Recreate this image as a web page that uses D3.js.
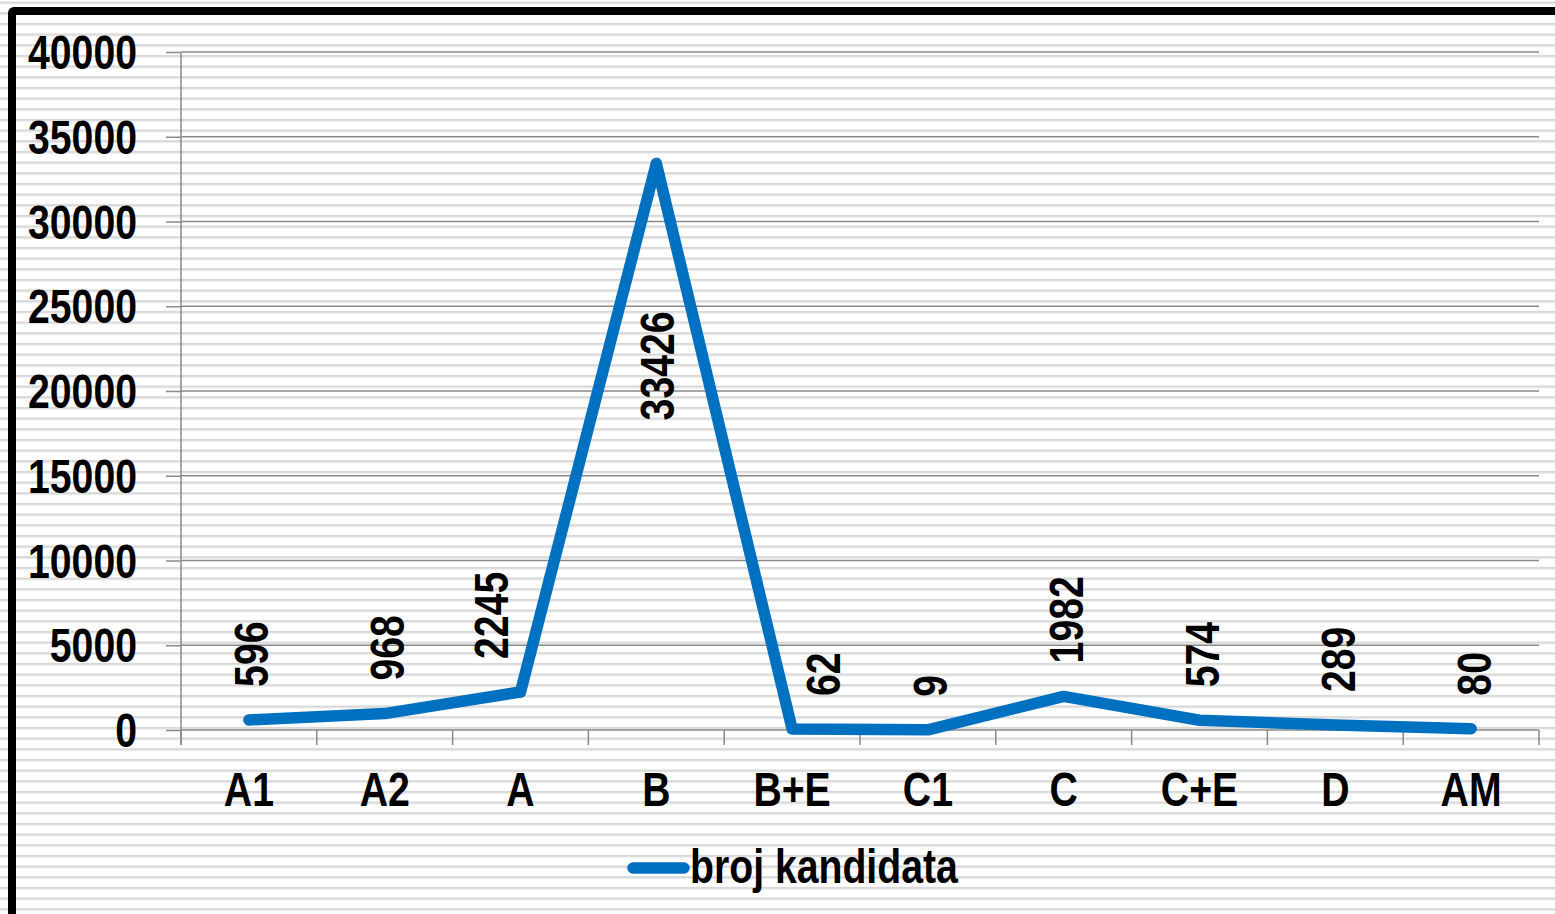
<!DOCTYPE html>
<html>
<head>
<meta charset="utf-8">
<script src="https://cdn.jsdelivr.net/npm/d3@7"></script>
<style>
  html, body { margin: 0; padding: 0; background: #fff; }
  svg { display: block; }
  .lbl { font-family: 'Liberation Sans', Arial, sans-serif; font-weight: bold; font-size: 49px; fill: #000; }
</style>
</head>
<body>
<div id="chart"></div>
<script>
// data
const categories = ['A1', 'A2', 'A', 'B', 'B+E', 'C1', 'C', 'C+E', 'D', 'AM'];
const values = [596, 968, 2245, 33426, 62, 9, 1982, 574, 289, 80];
const yTicks = [0, 5000, 10000, 15000, 20000, 25000, 30000, 35000, 40000];
const seriesName = 'broj kandidata';

const W = 1555, H = 914;
const plot = { left: 181, right: 1539, top: 52, bottom: 730 };
const blue = '#0070C0', axisGrey = '#8a8a8a';
const lineW = 11.5;
const narrow = 0.8; // no Arial Narrow installed, squeeze the bold face instead

const svg = d3.select('#chart').append('svg')
  .attr('width', W).attr('height', H);

// narrow bold text at (x,y), optional rotation
function label(parent, x, y, txt, anchor, rot) {
  return parent.append('text')
    .attr('class', 'lbl')
    .attr('text-anchor', anchor || 'start')
    .attr('transform', `translate(${x},${y}) rotate(${rot || 0}) scale(${narrow},1)`)
    .text(txt);
}

// striped background
const defs = svg.append('defs');
const pat = defs.append('pattern')
  .attr('id', 'stripes').attr('patternUnits', 'userSpaceOnUse')
  .attr('x', 0).attr('y', 1.5)
  .attr('width', 20).attr('height', 10.667);
pat.append('rect').attr('width', 20).attr('height', 10.667).attr('fill', '#fff');
pat.append('rect').attr('y', 0).attr('width', 20).attr('height', 2.4).attr('fill', '#d9d9d9');

svg.append('rect').attr('width', W).attr('height', H).attr('fill', 'url(#stripes)');

// outer frame (runs off the right and bottom edges)
svg.append('rect')
  .attr('x', 12).attr('y', 11)
  .attr('width', W + 40).attr('height', H + 40)
  .attr('rx', 2)
  .attr('fill', 'none').attr('stroke', '#000').attr('stroke-width', 8);

const x = d3.scaleBand().domain(categories).range([plot.left, plot.right]);
const y = d3.scaleLinear().domain([0, 40000]).range([plot.bottom, plot.top]);
const cx = d => x(d) + x.bandwidth() / 2;

// gridlines
svg.append('g').selectAll('line')
  .data(yTicks.filter(t => t > 0))
  .join('line')
  .attr('x1', plot.left).attr('x2', plot.right)
  .attr('y1', d => y(d)).attr('y2', d => y(d))
  .attr('stroke', axisGrey).attr('stroke-width', 1.5);

// y axis: ticks from d3, labels drawn narrow
const yAxis = svg.append('g')
  .attr('transform', `translate(${plot.left},0)`)
  .call(d3.axisLeft(y).tickValues(yTicks).tickSize(15).tickFormat(''));
yAxis.select('.domain').remove();
yAxis.selectAll('.tick line').attr('stroke', axisGrey).attr('stroke-width', 1.5);
const yLab = svg.append('g');
yTicks.forEach(t => label(yLab, 137, y(t) + 17, d3.format('d')(t), 'end'));
svg.append('line')
  .attr('x1', plot.left).attr('x2', plot.left)
  .attr('y1', plot.top).attr('y2', plot.bottom + 15)
  .attr('stroke', axisGrey).attr('stroke-width', 1.5);

// x axis
svg.append('line')
  .attr('x1', plot.left).attr('x2', plot.right)
  .attr('y1', plot.bottom).attr('y2', plot.bottom)
  .attr('stroke', axisGrey).attr('stroke-width', 1.5);
svg.append('g').selectAll('line')
  .data(categories.map(c => x(c)).concat([plot.right]))
  .join('line')
  .attr('x1', d => d).attr('x2', d => d)
  .attr('y1', plot.bottom).attr('y2', plot.bottom + 15)
  .attr('stroke', axisGrey).attr('stroke-width', 1.5);
const xLab = svg.append('g');
categories.forEach(c => label(xLab, cx(c), 806, c, 'middle'));

// series line
const pts = values.map((v, i) => [cx(categories[i]), y(v)]);
svg.append('path')
  .datum(pts)
  .attr('d', d3.line())
  .attr('fill', 'none').attr('stroke', blue)
  .attr('stroke-width', lineW)
  .attr('stroke-linecap', 'round').attr('stroke-linejoin', 'round');

// x of segment a->b at height yy
function segX(a, b, yy) {
  const t = (yy - a[1]) / (b[1] - a[1]);
  return a[0] + t * (b[0] - a[0]);
}

// data labels, rotated; pushed sideways when a steep segment runs through them
const dLab = svg.append('g');
const glyphH = 35, gap = 33, clear = lineW / 2 + 15;
values.forEach((v, i) => {
  const t = label(dLab, 0, 0, v, 'start', -90);
  const len = t.node().getComputedTextLength() * narrow;
  const [px, py] = pts[i];
  let bottom = py - gap;
  if (bottom - len < plot.top) bottom = py + 148 + len; // too tall: place below the point
  const top = bottom - len;
  let mid = px + 2;
  const inRange = (a, b) => Math.max(a[1], b[1]) > top && Math.min(a[1], b[1]) < bottom;
  if (i < pts.length - 1 && inRange(pts[i], pts[i + 1])) {
    const a = pts[i], b = pts[i + 1];
    const lo = Math.max(top, Math.min(a[1], b[1])), hi = Math.min(bottom, Math.max(a[1], b[1]));
    const xs = Math.min(segX(a, b, lo), segX(a, b, hi));
    mid = Math.min(mid, xs - clear - glyphH / 2);
  }
  if (i > 0 && inRange(pts[i - 1], pts[i])) {
    const a = pts[i - 1], b = pts[i];
    const lo = Math.max(top, Math.min(a[1], b[1])), hi = Math.min(bottom, Math.max(a[1], b[1]));
    const xs = Math.max(segX(a, b, lo), segX(a, b, hi));
    mid = Math.max(mid, xs + clear + glyphH / 2);
  }
  t.attr('transform', `translate(${mid + glyphH / 2},${bottom}) rotate(-90) scale(${narrow},1)`);
});

// legend
const lg = svg.append('g');
lg.append('line')
  .attr('x1', 633).attr('x2', 684).attr('y1', 868).attr('y2', 868)
  .attr('stroke', blue).attr('stroke-width', lineW).attr('stroke-linecap', 'round');
label(lg, 690, 883, seriesName, 'start');
</script>
</body>
</html>
